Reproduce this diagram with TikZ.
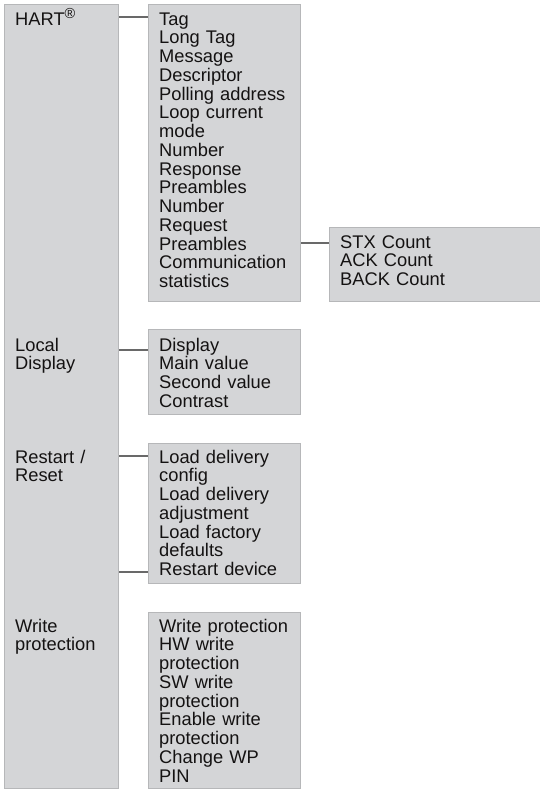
\documentclass[tikz,border=0pt]{standalone}
\usepackage{fontspec}
\setmainfont{Liberation Sans}
\usetikzlibrary{positioning}
\definecolor{boxfill}{RGB}{212,213,215}
\definecolor{boxline}{RGB}{182,183,185}
\definecolor{linkgray}{RGB}{105,105,105}
\definecolor{ink}{RGB}{20,18,18}

\begin{document}
\begin{tikzpicture}
[x=1pt, y=-1pt,
 menubox/.style={rectangle, draw=boxline, fill=boxfill, line width=1.2pt,
   anchor=north west, inner sep=0pt},
 menutext/.style={anchor=base west, inner sep=0pt, text=ink, text width=150pt,
   align=left, font=\fontsize{18.3}{18.75}\selectfont},
 link/.style={draw=linkgray, line width=2.2pt}]
  \useasboundingbox (0,0) rectangle (540,790);
  % boxes
  \node[menubox, minimum width=114pt, minimum height=784pt] (Main) at (4,4) {};
  \node[menubox, minimum width=152pt, minimum height=297pt] (Hart) at (148,4) {};
  \node[menubox, minimum width=152pt, minimum height=85pt] (Disp) at (148,329) {};
  \node[menubox, minimum width=152pt, minimum height=140pt] (Reset) at (148,443) {};
  \node[menubox, minimum width=152pt, minimum height=176pt] (WP) at (148,612) {};
  \node[menubox, minimum width=220pt, minimum height=74pt] (Comm) at (329,227) {};
  % submenu entries
  \node[menutext] (HartList) at ([xshift=11pt, yshift=-21pt]Hart.north west)
    {Tag\\Long Tag\\Message\\Descriptor\\Polling address\\Loop current\\mode\\Number\\Response\\Preambles\\Number\\Request\\Preambles\\Communication\\statistics};
  \node[menutext] (DispList) at ([xshift=11pt, yshift=-22pt]Disp.north west)
    {Display\\Main value\\Second value\\Contrast};
  \node[menutext] (ResetList) at ([xshift=11pt, yshift=-20pt]Reset.north west)
    {Load delivery\\config\\Load delivery\\adjustment\\Load factory\\defaults\\Restart device};
  \node[menutext] (WPList) at ([xshift=11pt, yshift=-20pt]WP.north west)
    {Write protection\\HW write\\protection\\SW write\\protection\\Enable write\\protection\\Change WP\\PIN};
  \node[menutext] (CommList) at ([xshift=11pt, yshift=-21pt]Comm.north west)
    {STX Count\\ACK Count\\BACK Count};
  % main menu entries
  \node[menutext] (HartLabel) at ([xshift=11pt]Main.west |- HartList.base)
    {HART\raisebox{6.5pt}{\fontsize{14.5}{14.5}\selectfont ®}};
  \node[menutext] (DispLabel) at ([xshift=11pt]Main.west |- DispList.base) {Local\\Display};
  \node[menutext] (ResetLabel) at ([xshift=11pt]Main.west |- ResetList.base) {Restart /\\Reset};
  \node[menutext] (WPLabel) at ([xshift=11pt]Main.west |- WPList.base) {Write\\protection};
  % connectors
  \draw[link] (Main.east |- 0,17) -- (Hart.west |- 0,17);
  \draw[link] (Main.east |- 0,350) -- (Disp.west |- 0,350);
  \draw[link] (Main.east |- 0,456) -- (Reset.west |- 0,456);
  \draw[link] (Main.east |- 0,572) -- (Reset.west |- 0,572);
  \draw[link] (Hart.east |- 0,243) -- (Comm.west |- 0,243);
\end{tikzpicture}
\end{document}
